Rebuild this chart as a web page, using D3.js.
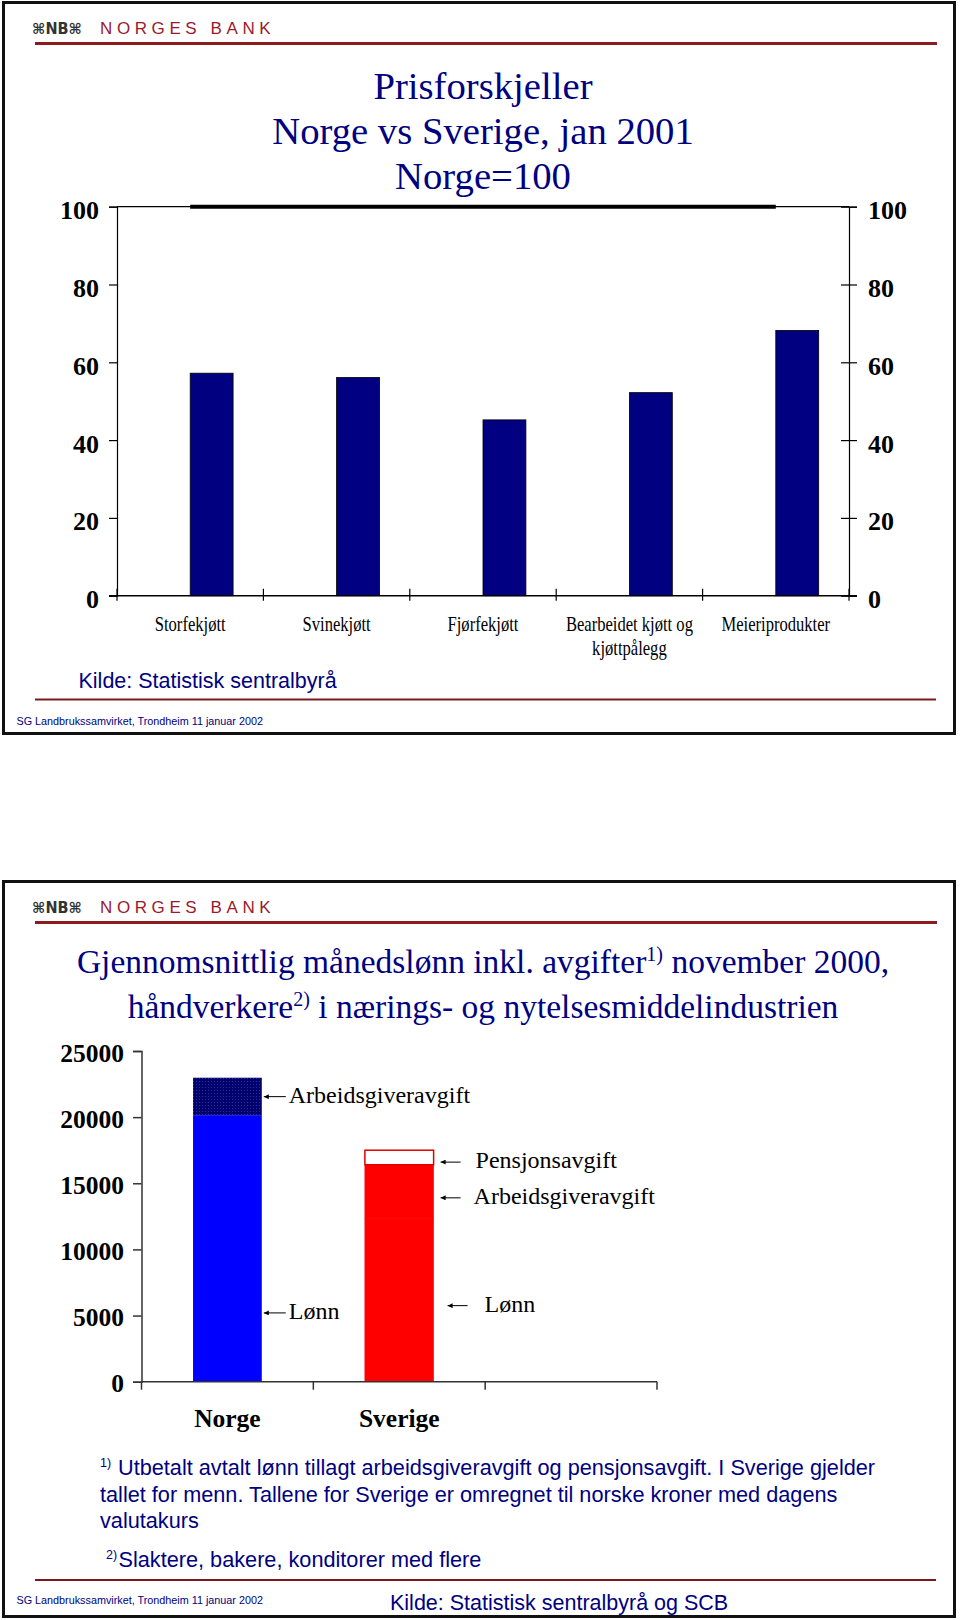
<!DOCTYPE html>
<html><head><meta charset="utf-8">
<script src="https://cdn.jsdelivr.net/npm/d3@7"></script>
<style>
body{margin:0;background:#fff;}
svg{display:block;}
</style></head>
<body>
<svg id="c" width="960" height="1620"></svg>
<script>
// ---------- DATA ----------
const categories1 = ["Storfekjøtt", "Svinekjøtt", "Fjørfekjøtt", "Bearbeidet kjøtt og\nkjøttpålegg", "Meieriprodukter"];
const sverigeIndex = [57.2, 56.1, 45.2, 52.2, 68.2];
const norgeIndex = [100, 100, 100, 100, 100];
const ticks1 = [0, 20, 40, 60, 80, 100];

const countries = ["Norge", "Sverige", ""];
const lonn = [20150, 12350];
const arbeidsgiveravgift = [2830, 4050];
const pensjonsavgift = [0, 1100];
const ticks2 = [0, 5000, 10000, 15000, 20000, 25000];

const annotations = [
  {cat: "Norge", value: 21550, text: "Arbeidsgiveravgift", a0: 2, a1: 24, tx: 27},
  {cat: "Norge", value: 5200, text: "Lønn", a0: 2, a1: 24, tx: 27},
  {cat: "Sverige", value: 16600, text: "Pensjonsavgift", a0: 7, a1: 27, tx: 42},
  {cat: "Sverige", value: 13900, text: "Arbeidsgiveravgift", a0: 7, a1: 27, tx: 40},
  {cat: "Sverige", value: 5750, text: "Lønn", a0: 14, a1: 34, tx: 51}
];

// ---------- STYLE ----------
const NAVY = "#000080";
const MAROON = "#8c1b1f";
const SERIF = "'Liberation Serif','Times New Roman',serif";
const SANS = "'Liberation Sans',Arial,sans-serif";

const svg = d3.select("#c");
const defs = svg.append("defs");
defs.append("marker").attr("id", "arr").attr("viewBox", "0 0 10 10")
  .attr("refX", 10).attr("refY", 5).attr("markerWidth", 7).attr("markerHeight", 5)
  .attr("markerUnits", "userSpaceOnUse")
  .attr("orient", "auto")
  .append("path").attr("d", "M0,0 L10,5 L0,10 Z").attr("fill", "#000");
const pat = defs.append("pattern").attr("id", "dots").attr("patternUnits", "userSpaceOnUse")
  .attr("width", 3).attr("height", 3);
pat.append("rect").attr("width", 3).attr("height", 3).attr("fill", "#00006a");
pat.append("rect").attr("x", 1).attr("y", 1).attr("width", 1).attr("height", 1).attr("fill", "#2a2ab0");

function slideFrame(top, h, bottomLineY, sgY) {
  svg.append("rect").attr("x", 3.5).attr("y", top).attr("width", 951).attr("height", h)
    .attr("fill", "none").attr("stroke", "#111").attr("stroke-width", 3);
  // logo
  svg.append("text").attr("x", 32).attr("y", top + 31).attr("font-family", "'DejaVu Sans',sans-serif")
    .attr("font-size", 15).attr("font-weight", "bold").attr("fill", "#333").attr("textLength", 50)
    .attr("lengthAdjust", "spacingAndGlyphs").text("⌘NB⌘");
  svg.append("text").attr("x", 100).attr("y", top + 31).attr("font-family", SANS)
    .attr("font-size", 17).attr("letter-spacing", 4.6).attr("fill", "#9a1a2c").text("NORGES BANK");
  svg.append("line").attr("x1", 35).attr("x2", 937).attr("y1", top + 41).attr("y2", top + 41)
    .attr("stroke", MAROON).attr("stroke-width", 3);
  svg.append("line").attr("x1", 35).attr("x2", 936).attr("y1", bottomLineY).attr("y2", bottomLineY)
    .attr("stroke", "#7a1a1e").attr("stroke-width", 2);
  svg.append("text").attr("x", 16.5).attr("y", sgY).attr("font-family", SANS).attr("font-size", 10.8)
    .attr("fill", NAVY).text("SG Landbrukssamvirket, Trondheim 11 januar 2002");
}

// ================= SLIDE 1 =================
slideFrame(2.5, 731, 699.5, 725);
["Prisforskjeller", "Norge vs Sverige, jan 2001", "Norge=100"].forEach((t, i) => {
  svg.append("text").attr("x", 483).attr("y", 99 + i * 45).attr("text-anchor", "middle")
    .attr("font-family", SERIF).attr("font-size", 38.7).attr("fill", NAVY).text(t);
});

const x1 = d3.scaleBand().domain(categories1).range([117, 849]);
const y1 = d3.scaleLinear().domain([0, 100]).range([595.7, 206.7]);
const g1 = svg.append("g");

// frame top line
g1.append("line").attr("x1", 117).attr("x2", 849).attr("y1", y1(100)).attr("y2", y1(100))
  .attr("stroke", "#000").attr("stroke-width", 1.2);

// bars
g1.selectAll("rect.bar").data(categories1).join("rect").attr("class", "bar")
  .attr("x", d => x1(d) + x1.bandwidth() / 2)
  .attr("width", x1.bandwidth() * 0.293)
  .attr("y", (d, i) => y1(sverigeIndex[i]))
  .attr("height", (d, i) => y1(0) - y1(sverigeIndex[i]))
  .attr("fill", NAVY).attr("stroke", "#000").attr("stroke-width", 0.8);

// Norge line
const line = d3.line().x((d, i) => x1(categories1[i]) + x1.bandwidth() / 2).y(d => y1(d));
g1.append("path").datum(norgeIndex).attr("d", line).attr("fill", "none")
  .attr("stroke", "#000").attr("stroke-width", 4);

// axes
const axL = g1.append("g").attr("transform", "translate(117,0)")
  .call(d3.axisLeft(y1).tickValues(ticks1).tickSize(8).tickPadding(10).tickFormat(d3.format("d")));
const axR = g1.append("g").attr("transform", "translate(849,0)")
  .call(d3.axisRight(y1).tickValues(ticks1).tickSize(8).tickPadding(11).tickFormat(d3.format("d")));
axR.selectAll(".tick line").attr("x1", -8).attr("x2", 8);
[axL, axR].forEach(a => {
  a.select(".domain").attr("stroke", "#000").attr("stroke-width", 1.2);
  a.selectAll(".tick line").attr("stroke", "#000").attr("stroke-width", 1.2);
  a.selectAll(".tick text").attr("font-family", SERIF).attr("font-size", 26).attr("font-weight", "bold")
    .attr("fill", "#000").attr("dy", null).attr("y", 0).attr("dominant-baseline", null)
    .attr("transform", "translate(0,12)");
});
// bottom axis
g1.append("line").attr("x1", 109).attr("x2", 857).attr("y1", y1(0)).attr("y2", y1(0))
  .attr("stroke", "#000").attr("stroke-width", 1.5);
g1.selectAll("line.ct").data(d3.range(categories1.length + 1)).join("line").attr("class", "ct")
  .attr("x1", i => 117 + i * x1.step()).attr("x2", i => 117 + i * x1.step())
  .attr("y1", y1(0) - 7).attr("y2", y1(0) + 5).attr("stroke", "#000").attr("stroke-width", 1.2);

// category labels (condensed serif)
categories1.forEach(c => {
  const cx = x1(c) + x1.bandwidth() / 2;
  c.split("\n").forEach((ln, j) => {
    g1.append("text").attr("transform", `translate(${cx},${630.7 + j * 24.5}) scale(0.79,1)`)
      .attr("text-anchor", "middle").attr("font-family", SERIF).attr("font-size", 21)
      .attr("fill", "#000").text(ln);
  });
});

svg.append("text").attr("x", 78.5).attr("y", 688).attr("font-family", SANS).attr("font-size", 21.5)
  .attr("fill", NAVY).text("Kilde: Statistisk sentralbyrå");

// ================= SLIDE 2 =================
slideFrame(881.5, 735, 1580, 1604);

const t1 = svg.append("text").attr("x", 483).attr("y", 973).attr("text-anchor", "middle")
  .attr("font-family", SERIF).attr("font-size", 33.5).attr("fill", NAVY);
t1.append("tspan").text("Gjennomsnittlig månedslønn inkl. avgifter");
t1.append("tspan").attr("font-size", 20).attr("dy", -12).text("1)");
t1.append("tspan").attr("dy", 12).text(" november 2000,");
const t2 = svg.append("text").attr("x", 483).attr("y", 1018).attr("text-anchor", "middle")
  .attr("font-family", SERIF).attr("font-size", 33.5).attr("fill", NAVY);
t2.append("tspan").text("håndverkere");
t2.append("tspan").attr("font-size", 20).attr("dy", -12).text("2)");
t2.append("tspan").attr("dy", 12).text(" i nærings- og nytelsesmiddelindustrien");

const x2 = d3.scaleBand().domain(countries).range([141.5, 657]);
const y2 = d3.scaleLinear().domain([0, 25000]).range([1381.7, 1051]);
const g2 = svg.append("g");
const bw = x2.bandwidth() * 0.40;
const bx = c => x2(c) + x2.bandwidth() / 2 - bw / 2;

const segs = [];
countries.slice(0, 2).forEach((c, i) => {
  const a = lonn[i], b = a + arbeidsgiveravgift[i], p = b + pensjonsavgift[i];
  segs.push({c, y0: 0, y1: a, key: "lonn"});
  segs.push({c, y0: a, y1: b, key: "aga"});
  if (pensjonsavgift[i] > 0) segs.push({c, y0: b, y1: p, key: "pen"});
});
const fillOf = s => s.c === "Norge" ? (s.key === "lonn" ? "#0000ff" : "url(#dots)") :
  (s.key === "pen" ? "#fff" : "#ff0000");
g2.selectAll("rect.seg").data(segs).join("rect").attr("class", "seg")
  .attr("x", s => bx(s.c)).attr("width", bw)
  .attr("y", s => y2(s.y1)).attr("height", s => y2(s.y0) - y2(s.y1))
  .attr("fill", fillOf)
  .attr("stroke", s => s.key === "pen" ? "#e00000" : (s.c === "Sverige" ? "#ff0000" : "none"))
  .attr("stroke-width", s => s.key === "pen" ? 1.5 : 0.6);

const axL2 = g2.append("g").attr("transform", "translate(141.5,0)")
  .call(d3.axisLeft(y2).tickValues(ticks2).tickSize(8.5).tickPadding(9).tickFormat(d3.format("d")));
axL2.select(".domain").attr("stroke", "#333").attr("stroke-width", 1.5);
axL2.selectAll(".tick line").attr("stroke", "#333").attr("stroke-width", 1.5);
axL2.selectAll(".tick text").attr("font-family", SERIF).attr("font-size", 25.5).attr("font-weight", "bold")
  .attr("fill", "#000").attr("dy", null).attr("y", 0).attr("transform", "translate(0,10)");

g2.append("line").attr("x1", 141.5).attr("x2", 657).attr("y1", y2(0)).attr("y2", y2(0))
  .attr("stroke", "#333").attr("stroke-width", 1.5);
g2.selectAll("line.ct2").data(d3.range(countries.length + 1)).join("line").attr("class", "ct2")
  .attr("x1", i => 141.5 + i * x2.step()).attr("x2", i => 141.5 + i * x2.step())
  .attr("y1", y2(0)).attr("y2", y2(0) + 8).attr("stroke", "#333").attr("stroke-width", 1.5);

countries.forEach(c => {
  if (!c) return;
  g2.append("text").attr("x", x2(c) + x2.bandwidth() / 2).attr("y", 1426.7).attr("text-anchor", "middle")
    .attr("font-family", SERIF).attr("font-size", 25.5).attr("font-weight", "bold").attr("fill", "#000").text(c);
});

annotations.forEach(a => {
  const right = bx(a.cat) + bw;
  const yy = y2(a.value);
  g2.append("line").attr("x1", right + a.a1).attr("x2", right + a.a0).attr("y1", yy).attr("y2", yy)
    .attr("stroke", "#000").attr("stroke-width", 1).attr("marker-end", "url(#arr)");
  g2.append("text").attr("x", right + a.tx).attr("y", yy + 6).attr("font-family", SERIF)
    .attr("font-size", 24).attr("fill", "#000").text(a.text);
});

// footnotes
const fn = [
  {sup: "1)", x: 100, tx: 118, y: 1475, text: "Utbetalt avtalt lønn tillagt arbeidsgiveravgift og pensjonsavgift. I Sverige gjelder"},
  {sup: "", x: 100, tx: 100, y: 1501.5, text: "tallet for menn. Tallene for Sverige er omregnet til norske kroner med dagens"},
  {sup: "", x: 100, tx: 100, y: 1527.5, text: "valutakurs"},
  {sup: "2)", x: 106, tx: 118.5, y: 1566.7, text: "Slaktere, bakere, konditorer med flere"}
];
fn.forEach(f => {
  if (f.sup) svg.append("text").attr("x", f.x).attr("y", f.y - 8).attr("font-family", SANS)
    .attr("font-size", 12.5).attr("fill", NAVY).text(f.sup);
  svg.append("text").attr("x", f.tx).attr("y", f.y).attr("font-family", SANS).attr("font-size", 21.7)
    .attr("fill", NAVY).text(f.text);
});
svg.append("text").attr("x", 390).attr("y", 1610).attr("font-family", SANS).attr("font-size", 21.5)
  .attr("fill", NAVY).text("Kilde: Statistisk sentralbyrå og SCB");
</script>
</body></html>
